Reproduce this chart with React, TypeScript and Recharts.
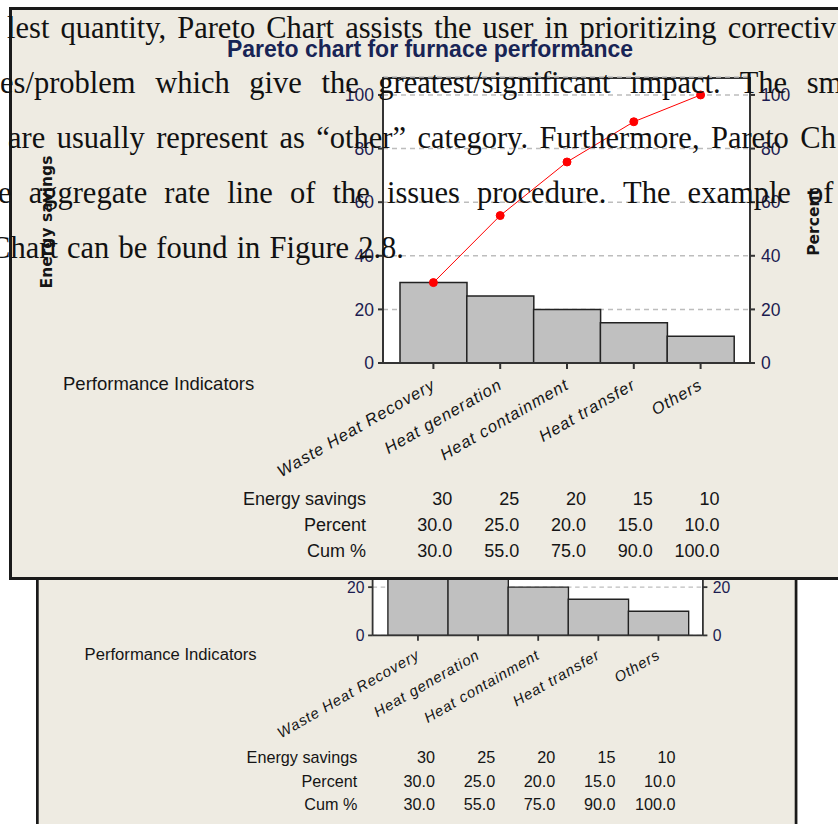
import {
  Bar,
  CartesianGrid,
  ComposedChart,
  Line,
  XAxis,
  YAxis,
} from "recharts";

// pareto data (furnace performance)
export const categories = [
  "Waste Heat Recovery",
  "Heat generation",
  "Heat containment",
  "Heat transfer",
  "Others",
];
export const savings = [30, 25, 20, 15, 10];
export const percent = [30.0, 25.0, 20.0, 15.0, 10.0];
export const cumPercent = [30.0, 55.0, 75.0, 90.0, 100.0];
export const yTicks = [0, 20, 40, 60, 80, 100];

const data = categories.map((name, i) => ({
  name,
  savings: savings[i],
  cum: cumPercent[i],
}));

// panel geometry (local to the panel)
const W = 846;
const H = 573;
const PLOT = { left: 374, right: 741, top: 70, bottom: 356 };
const PAD = { left: 17, right: 16 };
const Y_MAX = 106.7;
const BAND = (PLOT.right - PLOT.left - PAD.left - PAD.right) / categories.length;
const bandCenter = (i: number) => PLOT.left + PAD.left + BAND * (i + 0.5);

const SANS = "'Liberation Sans', Arial, sans-serif";
const TICK_COLOR = "#1c1c50";

// the page text that lies over the top copy
const docLines = [
  { text: "lest quantity, Pareto Chart assists the user in prioritizing correctiv", x: 7, y: 38, ws: 3.5, anchor: "start" },
  { text: "es/problem which give the greatest/significant impact. The sm", x: 0, y: 93, ws: 12, anchor: "start" },
  { text: "are usually represent as \u201cother\u201d category. Furthermore, Pareto Ch", x: 8, y: 148, ws: 3.8, anchor: "start" },
  { text: "e aggregate rate line of the issues procedure. The example of", x: -2, y: 203, ws: 9.5, anchor: "start" },
  { text: "Chart can be found in Figure 2.8.", x: 404, y: 258, ws: 1.5, anchor: "end" },
];

const CategoryTick = (props: any) => {
  const { x, y, payload } = props;
  return (
    <text
      transform={`translate(${x + 3},${y + 17}) rotate(-30)`}
      textAnchor="end"
      fontStyle="italic"
      fontSize={16.5}
      letterSpacing={1}
      fontFamily={SANS}
      fill="#151515"
    >
      {payload.value}
    </text>
  );
};

const ParetoPanel = () => {
  const rows = [
    { label: "Energy savings", values: savings.map((v) => String(v)) },
    { label: "Percent", values: percent.map((v) => v.toFixed(1)) },
    { label: "Cum %", values: cumPercent.map((v) => v.toFixed(1)) },
  ];
  return (
    <div style={{ position: "relative", width: W, height: H, background: "#eeebe2" }}>
      <div
        style={{
          position: "absolute",
          left: PLOT.left,
          top: PLOT.top,
          width: PLOT.right - PLOT.left,
          height: PLOT.bottom - PLOT.top,
          background: "#fff",
          borderTop: "2px solid #333",
          boxSizing: "border-box",
        }}
      />
      <div style={{ position: "absolute", left: 0, top: 0 }}>
        <ComposedChart
          width={W}
          height={H}
          data={data}
          barCategoryGap={0}
          margin={{ top: PLOT.top, left: PLOT.left - 40, right: W - PLOT.right - 40, bottom: H - PLOT.bottom - 30 }}
        >
          <CartesianGrid
            yAxisId="left"
            vertical={false}
            stroke="#bdbdbd"
            strokeWidth={1.5}
            strokeDasharray="5 4"
          />
          <XAxis
            dataKey="name"
            height={30}
            padding={{ left: PAD.left, right: PAD.right }}
            stroke="#333"
            strokeWidth={2}
            tickSize={6}
            tick={<CategoryTick />}
            interval={0}
          />
          <YAxis
            yAxisId="left"
            width={40}
            domain={[0, Y_MAX]}
            ticks={yTicks}
            stroke="#333"
            strokeWidth={2}
            tickSize={5}
            tickMargin={4}
            tick={{ fill: TICK_COLOR, fontSize: 17.5, fontFamily: SANS }}
          />
          <YAxis
            yAxisId="right"
            orientation="right"
            width={40}
            domain={[0, Y_MAX]}
            ticks={yTicks}
            stroke="#333"
            strokeWidth={2}
            tickSize={5}
            tickMargin={6}
            tick={{ fill: TICK_COLOR, fontSize: 17.5, fontFamily: SANS }}
          />
          <Bar
            yAxisId="left"
            dataKey="savings"
            fill="#c0c0c0"
            stroke="#222"
            strokeWidth={1.5}
            isAnimationActive={false}
          />
          <Line
            yAxisId="right"
            type="linear"
            dataKey="cum"
            stroke="#ff0000"
            strokeWidth={1}
            dot={{ r: 4, fill: "#ff0000", stroke: "#ff0000" }}
            isAnimationActive={false}
          />
        </ComposedChart>
      </div>
      <svg
        width={W}
        height={H}
        style={{ position: "absolute", left: 0, top: 0, pointerEvents: "none" }}
      >
        <text
          x={421}
          y={50}
          textAnchor="middle"
          textLength={406}
          lengthAdjust="spacingAndGlyphs"
          fontFamily={SANS}
          fontWeight="bold"
          fontSize={23}
          fill="#182455"
        >
          Pareto chart for furnace performance
        </text>
        <text
          transform="translate(43,215) rotate(-90)"
          textAnchor="middle"
          fontFamily="'DejaVu Sans', sans-serif"
          fontWeight="bold"
          fontSize={15.5}
          fill="#151515"
        >
          Energy savings
        </text>
        <text
          transform="translate(810,215) rotate(-90)"
          textAnchor="middle"
          fontFamily="'DejaVu Sans', sans-serif"
          fontWeight="bold"
          fontSize={15.5}
          fill="#151515"
        >
          Percent
        </text>
        <text x={54} y={383} fontFamily={SANS} fontSize={18.5} fill="#151515">
          Performance Indicators
        </text>
        {rows.map((row, r) => (
          <g key={row.label}>
            <text x={357} y={498 + r * 26} textAnchor="end" fontFamily={SANS} fontSize={18} fill="#151515">
              {row.label}
            </text>
            {row.values.map((v, i) => (
              <text
                key={i}
                x={bandCenter(i) + 19}
                y={498 + r * 26}
                textAnchor="end"
                fontFamily={SANS}
                fontSize={18}
                fill="#151515"
              >
                {v}
              </text>
            ))}
          </g>
        ))}
      </svg>
      <div
        style={{
          position: "absolute",
          inset: 0,
          border: "3px solid #1a1a1a",
          boxSizing: "border-box",
          pointerEvents: "none",
        }}
      />
    </div>
  );
};

export default function App() {
  return (
    <div
      style={{
        position: "absolute",
        left: 0,
        top: 0,
        width: 838,
        height: 824,
        overflow: "hidden",
        background: "#fff",
      }}
    >
      {/* lower copy, partly covered */}
      <div
        style={{
          position: "absolute",
          left: 36.4,
          top: 314.6,
          transform: "scale(0.9)",
          transformOrigin: "0 0",
        }}
      >
        <ParetoPanel />
      </div>
      {/* upper copy */}
      <div style={{ position: "absolute", left: 9, top: 7 }}>
        <ParetoPanel />
      </div>
      <svg
        width={838}
        height={824}
        style={{ position: "absolute", left: 0, top: 0, pointerEvents: "none" }}
      >
        {docLines.map((l) => (
          <text
            key={l.y}
            x={l.x}
            y={l.y}
            textAnchor={l.anchor}
            fontFamily="'Liberation Serif', 'Times New Roman', serif"
            fontSize={30.5}
            fill="#111"
            style={{ wordSpacing: l.ws }}
          >
            {l.text}
          </text>
        ))}
      </svg>
    </div>
  );
}
